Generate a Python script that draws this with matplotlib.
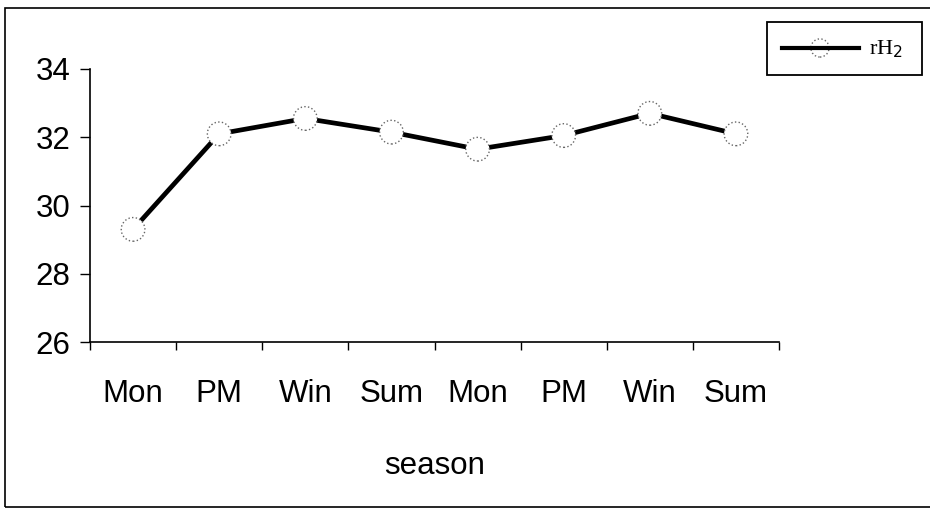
import matplotlib
matplotlib.use("Agg")
import matplotlib.pyplot as plt
from matplotlib import font_manager
from matplotlib.lines import Line2D
from matplotlib.patches import Rectangle

seasons = ["Mon", "PM", "Win", "Sum", "Mon", "PM", "Win", "Sum"]
rh2 = [29.3, 32.1, 32.55, 32.15, 31.65, 32.05, 32.7, 32.1]
yticks = [26, 28, 30, 32, 34]

# condensed Arial-like look if the narrow face is there
try:
    font_manager.findfont(font_manager.FontProperties(family="Liberation Sans Narrow"),
                          fallback_to_default=False)
    narrow, fs = ["Liberation Sans Narrow", "DejaVu Sans"], 26
except Exception:
    narrow, fs = ["Liberation Sans", "DejaVu Sans"], 22.5

W, H = 930, 509
fig = plt.figure(figsize=(9.3, 5.09), dpi=100)
ax = fig.add_axes([90 / W, 1 - 342 / H, (779 - 90) / W, (342 - 69) / H])

x = list(range(len(seasons)))
ax.plot(x, rh2, color="black", lw=3.4, zorder=2)
ax.scatter(x, rh2, s=290, facecolors="white", edgecolors="#666666",
           linewidths=1.0, linestyles=":", zorder=3)

ax.set_xlim(-0.5, len(seasons) - 0.5)
ax.set_ylim(26, 34)
ax.set_yticks(yticks)
ax.set_yticklabels([str(v) for v in yticks], fontfamily=narrow, fontsize=fs)
ax.set_xticks(x)
ax.set_xticklabels(seasons, fontfamily=narrow, fontsize=fs)
ax.set_xticks([i - 0.5 for i in range(len(seasons) + 1)], minor=True)
ax.tick_params(axis="x", which="major", length=0, pad=27)
ax.tick_params(axis="x", which="minor", length=6, width=1, direction="out")
ax.tick_params(axis="y", length=7, width=1, pad=7)
for s in ["top", "right"]:
    ax.spines[s].set_visible(False)
for s in ["left", "bottom"]:
    ax.spines[s].set_linewidth(1.2)

ax.set_xlabel("season", fontfamily=narrow, fontsize=fs, labelpad=30)

# legend box drawn by hand (figure pixels)
def fx(px):
    return px / W

def fy(py):
    return 1 - py / H

fig.patches.append(Rectangle((fx(767), fy(75)), fx(922) - fx(767), fy(22) - fy(75),
                             transform=fig.transFigure, fill=False,
                             edgecolor="black", lw=1.3))
fig.lines.append(Line2D([fx(782), fx(859)], [fy(48), fy(48)],
                        transform=fig.transFigure, color="black", lw=3))
lax = fig.add_axes([0, 0, 1, 1], facecolor="none")
lax.set_axis_off()
lax.set_xlim(0, 1)
lax.set_ylim(0, 1)
lax.scatter([fx(820)], [fy(48)], s=170, facecolors="white", edgecolors="#666666",
            linewidths=1.0, linestyles=":", zorder=3)
lax.text(fx(869), fy(49), r"rH$_2$", fontfamily="Liberation Serif", fontsize=16,
         va="center", ha="left")

# outer chart frame (only left/top/bottom are inside the picture)
fig.patches.append(Rectangle((fx(5), fy(507)), 1.0, fy(8) - fy(507),
                             transform=fig.transFigure, fill=False,
                             edgecolor="black", lw=1.2))

fig.savefig("out.png", dpi=100)
